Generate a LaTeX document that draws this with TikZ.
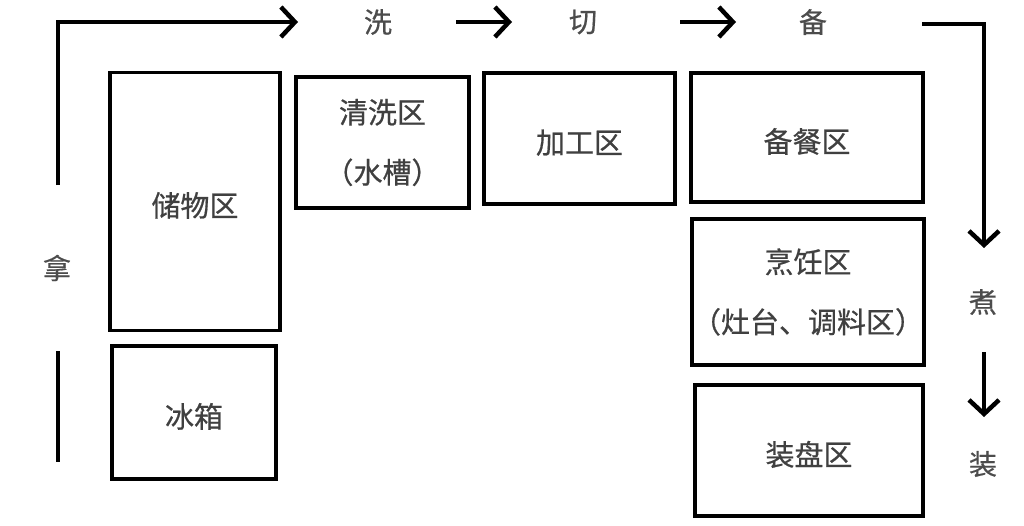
\documentclass[tikz,border=0pt]{standalone}
\usepackage{fontspec}
\newfontfamily\cjk[FakeBold=0.6]{Noto Sans CJK SC}
\usetikzlibrary{arrows.meta}

\begin{document}
\begin{tikzpicture}[x=1pt,y=-1pt,
	zone/.style={draw,line width=3.5pt,inner sep=0pt,align=center,text=black!75,font=\cjk\fontsize{29}{60}\selectfont},
	oneline/.style={text height=32pt,text depth=2pt},
	verb/.style={inner sep=0pt,text=black!70,font=\cjk\fontsize{28}{30}\selectfont},
	flow/.style={line width=3.5pt,-{Straight Barb[length=14pt,width=30pt,line width=4.5pt]}},
	wall/.style={line width=3.5pt}]
	\useasboundingbox (0,0) rectangle (1024,525);
	% zones
	\node[zone,oneline,minimum width=170pt,minimum height=258pt] (chuwu) at (195,201.5) {储物区};
	\node[zone,oneline,minimum width=164pt,minimum height=133pt] (bingxiang) at (194,412.5) {冰箱};
	\node[zone,minimum width=173pt,minimum height=131pt] (qingxi) at (382.5,142.5) {清洗区\\（水槽）};
	\node[zone,oneline,minimum width=191pt,minimum height=131pt] (jiagong) at (579.5,138.5) {加工区};
	\node[zone,oneline,minimum width=232pt,minimum height=129pt] (beican) at (807,137.5) {备餐区};
	\node[zone,minimum width=230pt,minimum height=146pt] (pengren) at (808,292) {烹饪区\\（灶台、调料区）};
	\node[zone,oneline,minimum width=228pt,minimum height=131pt] (zhuangpan) at (809,450.5) {装盘区};
	% steps
	\node[verb] (na) at (57,268) {拿};
	\node[verb] (xi) at (378,22) {洗};
	\node[verb] (qie) at (583,22) {切};
	\node[verb] (bei) at (813,22) {备};
	\node[verb] (zhu) at (983,302) {煮};
	\node[verb] (zhuang) at (983,464) {装};
	% flow
	\coordinate (natop) at (58,185);
	\coordinate (nabot) at (58,351);
	\coordinate (naend) at (58,462);
	\coordinate (xiin) at (298,22);
	\coordinate (xiout) at (456,22);
	\coordinate (qiein) at (512,22);
	\coordinate (qieout) at (680,22);
	\coordinate (beiin) at (736,22);
	\coordinate (beiout) at (922,24);
	\coordinate (zhuin) at (984,248);
	\coordinate (zhuout) at (984,352);
	\coordinate (zhuangin) at (984,417);
	\draw[flow] (natop) |- (xiin);
	\draw[flow] (xiout) -- (qiein);
	\draw[flow] (qieout) -- (beiin);
	\draw[flow] (beiout) -| (zhuin);
	\draw[flow] (zhuout) -- (zhuangin);
	\draw[wall] (nabot) -- (naend);
\end{tikzpicture}
\end{document}
